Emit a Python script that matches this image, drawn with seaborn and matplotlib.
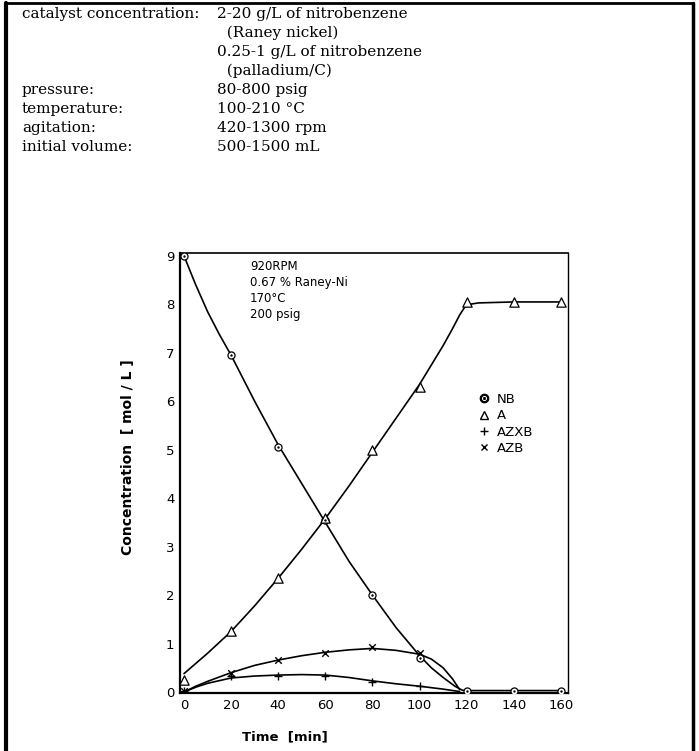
import matplotlib
matplotlib.use("Agg")
import matplotlib.pyplot as plt
import seaborn as sns
import pandas as pd
from matplotlib.lines import Line2D

# ---- measured points ----
time = [0, 20, 40, 60, 80, 100, 120, 140, 160]
nb = [9.0, 6.95, 5.05, 3.55, 2.0, 0.7, 0.03, 0.03, 0.03]
a = [0.25, 1.25, 2.35, 3.6, 5.0, 6.3, 8.05, 8.05, 8.05]
time_az = [0, 20, 40, 60, 80, 100]
azxb = [0.03, 0.33, 0.33, 0.33, 0.21, 0.13]
azb = [0.03, 0.4, 0.67, 0.8, 0.92, 0.8]

# ---- hand-drawn fit curves ----
nb_fit_t = [0, 5, 10, 15, 20, 30, 40, 50, 60, 70, 80, 90, 100, 105, 110, 115, 118, 120, 140, 160]
nb_fit = [9.0, 8.4, 7.85, 7.38, 6.95, 6.0, 5.1, 4.3, 3.5, 2.7, 2.0, 1.33, 0.75, 0.5, 0.3, 0.12, 0.04, 0.03, 0.03, 0.03]
a_fit_t = [0, 10, 20, 30, 40, 50, 60, 70, 80, 90, 100, 105, 110, 114, 117, 119, 121, 125, 140, 160]
a_fit = [0.38, 0.8, 1.25, 1.78, 2.35, 2.95, 3.58, 4.25, 4.95, 5.65, 6.35, 6.75, 7.15, 7.5, 7.78, 7.93, 8.0, 8.03, 8.05, 8.05]
azb_fit_t = [0, 5, 10, 20, 30, 40, 50, 60, 70, 80, 90, 100, 105, 110, 114, 117]
azb_fit = [0.0, 0.12, 0.22, 0.4, 0.55, 0.66, 0.75, 0.82, 0.87, 0.9, 0.86, 0.78, 0.68, 0.5, 0.27, 0.05]
azxb_fit_t = [0, 5, 10, 20, 30, 40, 50, 60, 70, 80, 90, 100, 110, 117]
azxb_fit = [0.0, 0.1, 0.18, 0.29, 0.33, 0.35, 0.36, 0.35, 0.3, 0.23, 0.17, 0.12, 0.06, 0.01]

x_ticks = [0, 20, 40, 60, 80, 100, 120, 140, 160]
y_ticks = [0, 1, 2, 3, 4, 5, 6, 7, 8, 9]

param_labels = ["catalyst concentration:", "", "", "", "pressure:", "temperature:",
                "agitation:", "initial volume:"]
param_values = ["2-20 g/L of nitrobenzene", "  (Raney nickel)", "0.25-1 g/L of nitrobenzene",
                "  (palladium/C)", "80-800 psig", "100-210 \u00b0C", "420-1300 rpm", "500-1500 mL"]
conditions = ["920RPM", "0.67 % Raney-Ni", "170\u00b0C", "200 psig"]
legend_labels = ["NB", "A", "AZXB", "AZB"]

sns.set_theme(style="white")
plt.rcParams["font.family"] = ["DejaVu Sans"]
plt.rcParams["text.color"] = "black"
plt.rcParams["axes.labelcolor"] = "black"
plt.rcParams["xtick.color"] = "black"
plt.rcParams["ytick.color"] = "black"

fig = plt.figure(figsize=(6.99, 7.51), dpi=100)
W, H = 699.0, 751.0
ax = fig.add_axes([180 / W, (H - 693) / H, 388 / W, 440 / H])

lw = 1.2
for t, v in [(nb_fit_t, nb_fit), (a_fit_t, a_fit), (azb_fit_t, azb_fit), (azxb_fit_t, azxb_fit)]:
    sns.lineplot(x=t, y=v, ax=ax, color="black", linewidth=lw, sort=False, estimator=None)

# markers
sns.scatterplot(x=time, y=nb, ax=ax, marker="o", s=26, facecolor="white", edgecolor="black",
                linewidth=0.9, zorder=5)
sns.scatterplot(x=time, y=nb, ax=ax, marker="o", s=3, color="black", linewidth=0, zorder=6)
sns.scatterplot(x=time, y=a, ax=ax, marker="^", s=45, facecolor="white", edgecolor="black",
                linewidth=0.9, zorder=5)
sns.scatterplot(x=time_az, y=azxb, ax=ax, marker="+", s=30, color="black", linewidth=1.0, zorder=5)
sns.scatterplot(x=time_az, y=azb, ax=ax, marker="x", s=22, color="black", linewidth=1.0, zorder=5)

ax.set_xlim(-1.7, 163)
ax.set_ylim(-0.02, 9.06)
ax.set_xticks(x_ticks)
ax.set_yticks(y_ticks)
ax.tick_params(direction="out", length=3, width=1, labelsize=9.5, pad=1, colors="black")
for side, w in [("left", 1.6), ("bottom", 1.6), ("top", 1.2), ("right", 1.0)]:
    ax.spines[side].set_visible(True)
    ax.spines[side].set_color("black")
    ax.spines[side].set_linewidth(w)

ax.set_xlabel("Time  [min]", fontsize=9.5, fontweight="bold", color="black")
ax.xaxis.set_label_coords((285 - 180) / 388, -0.085)
ax.set_ylabel("Concentration  [ mol / L ]", fontsize=10, fontweight="bold", color="black")
ax.yaxis.set_label_coords(-0.115, 0.536)

# conditions annotation
for i, s in enumerate(conditions):
    ax.text((250 - 180) / 388, (693 - 266 - i * 16.3) / 440, s, transform=ax.transAxes,
            fontsize=8.5, va="center", ha="left", color="black")

# legend
handles = [
    Line2D([], [], marker="$\\odot$", color="black", linestyle="none", markersize=6),
    Line2D([], [], marker="^", markerfacecolor="white", markeredgecolor="black", linestyle="none", markersize=6),
    Line2D([], [], marker="+", color="black", linestyle="none", markersize=6),
    Line2D([], [], marker="x", color="black", linestyle="none", markersize=4.5),
]
leg = ax.legend(handles, legend_labels, loc="upper left", bbox_to_anchor=((478 - 180) / 388, (693 - 393) / 440),
                frameon=False, handlelength=0.9, handletextpad=0.5, labelspacing=0.25, fontsize=9.5,
                borderpad=0, borderaxespad=0)
for txt in leg.get_texts():
    txt.set_color("black")

# parameter text block
y0 = 14
dy = 19
for i, (lab, val) in enumerate(zip(param_labels, param_values)):
    yy = 1 - (y0 + i * dy) / H
    if lab:
        fig.text(22 / W, yy, lab, family="DejaVu Serif", fontsize=11, va="center", ha="left", color="black")
    fig.text(217 / W, yy, val, family="DejaVu Serif", fontsize=11, va="center", ha="left", color="black")

# page frame
fig.add_artist(Line2D([6 / W, 6 / W], [0, 1 - 3 / H], color="black", linewidth=3, transform=fig.transFigure))
fig.add_artist(Line2D([693 / W, 693 / W], [0, 1 - 3 / H], color="black", linewidth=2.5, transform=fig.transFigure))
fig.add_artist(Line2D([6 / W, 693 / W], [1 - 3 / H, 1 - 3 / H], color="black", linewidth=2, transform=fig.transFigure))

fig.savefig("out.png", dpi=100)
